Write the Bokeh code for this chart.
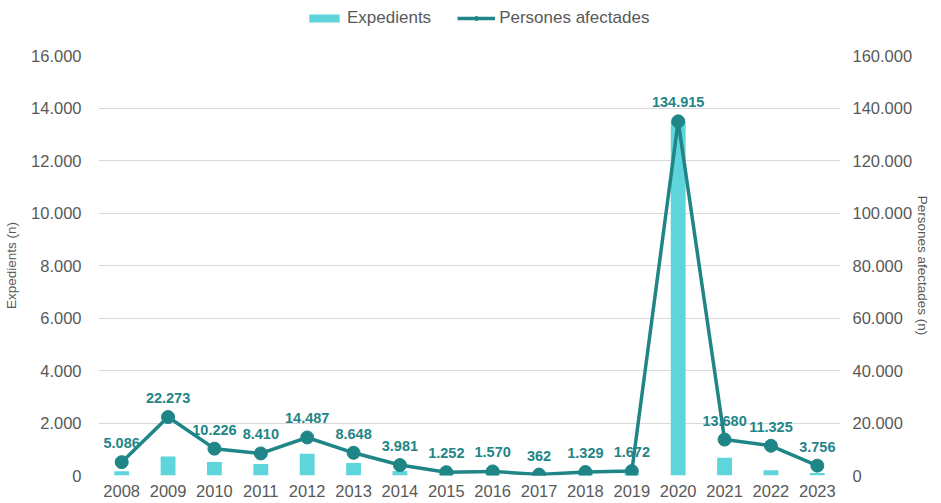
from bokeh.plotting import figure
from bokeh.layouts import column
from bokeh.models import (ColumnDataSource, Range1d, LinearAxis, FixedTicker, Legend,
                          LegendItem, LabelSet, FactorRange)
from bokeh.embed import file_html
from bokeh.resources import INLINE
from bokeh.core.properties import value

years = ["2008", "2009", "2010", "2011", "2012", "2013", "2014", "2015",
         "2016", "2017", "2018", "2019", "2020", "2021", "2022", "2023"]
expedients = [160, 720, 515, 440, 830, 475, 170, 60, 80, 20, 60, 70, 13500, 680, 200, 100]
persones = [5086, 22273, 10226, 8410, 14487, 8648, 3981, 1252, 1570, 362, 1329, 1672,
            134915, 13680, 11325, 3756]

left_ticks = [0, 2000, 4000, 6000, 8000, 10000, 12000, 14000, 16000]
right_ticks = [0, 20000, 40000, 60000, 80000, 100000, 120000, 140000, 160000]


def fmt(v):
    return f"{v:,}".replace(",", ".")


src = ColumnDataSource(dict(
    year=years, exp=expedients, per=persones,
    lab=[fmt(v) for v in persones],
))

FONT = "Liberation Sans"
GREY = "#595959"
BAR = "#5DD5DA"
LINE = "#1F8587"
W = 933
LEG_H = 30
H = 474
TOP, BOTTOM = 25, 29
LB, RB = 98, 90

# ---------- legend strip ----------
lg = figure(width=W, height=LEG_H, x_range=Range1d(0, 1), y_range=Range1d(0, 1),
            x_axis_type=None, y_axis_type=None, output_backend="svg",
            toolbar_location=None, min_border_left=LB, min_border_right=RB,
            min_border_top=0, min_border_bottom=0)
lg.outline_line_color = None
lg_vb = lg.vbar(x=[-100], bottom=[-100], top=[-99], width=0.3, color=BAR, line_color=None)
lg_ln = lg.line(x=[-100, -99], y=[-100, -100], line_color=LINE, line_width=3.5)
lg_sc = lg.scatter(x=[-100], y=[-100], size=12, fill_color=LINE, line_color=LINE)
legend = Legend(items=[LegendItem(label="Expedients", renderers=[lg_vb]),
                       LegendItem(label="Persones afectades", renderers=[lg_ln, lg_sc])],
                orientation="horizontal", location=(207, 2),
                label_text_font=FONT, label_text_font_size="17px",
                label_text_color=GREY, border_line_color=None,
                background_fill_alpha=0, glyph_width=38, glyph_height=10,
                spacing=26, label_standoff=4, padding=2, margin=0)
lg.add_layout(legend)

# ---------- main chart ----------
p = figure(x_range=FactorRange(*years), y_range=Range1d(0, 16000),
           width=W, height=H, output_backend="svg", toolbar_location=None,
           min_border_left=LB, min_border_right=RB, min_border_top=TOP,
           min_border_bottom=BOTTOM)
p.outline_line_color = None
p.extra_y_ranges = {"right": Range1d(0, 160000)}

p.vbar(x="year", top="exp", width=0.32, source=src, color=BAR, line_color=None)
p.line(x="year", y="per", source=src, y_range_name="right", line_color=LINE,
       line_width=3.5)
p.scatter(x="year", y="per", source=src, y_range_name="right", size=13,
          fill_color=LINE, line_color=LINE)

labels = LabelSet(x="year", y="per", text="lab", source=src, y_range_name="right",
                  y_offset=14, text_align="center", text_baseline="bottom",
                  text_font=value(FONT), text_font_style="bold", text_font_size="14.5px",
                  text_color=LINE)
p.add_layout(labels)


def style_axis(ax, label_standoff, axis_label_standoff):
    ax.axis_line_color = None
    ax.major_tick_line_color = None
    ax.minor_tick_line_color = None
    ax.major_tick_out = 0
    ax.major_tick_in = 0
    ax.minor_tick_out = 0
    ax.minor_tick_in = 0
    ax.major_label_text_font = FONT
    ax.major_label_text_font_size = "16.5px"
    ax.major_label_text_color = GREY
    ax.axis_label_text_font = FONT
    ax.axis_label_text_font_size = "13.5px"
    ax.axis_label_text_font_style = "normal"
    ax.axis_label_text_color = GREY
    ax.axis_label_standoff = axis_label_standoff
    ax.major_label_standoff = label_standoff


# left axis
p.yaxis.ticker = FixedTicker(ticks=left_ticks)
p.yaxis.major_label_overrides = {t: fmt(t) for t in left_ticks}
p.yaxis.axis_label = "Expedients (n)"
for ax in p.yaxis:
    style_axis(ax, 17, 9)

# right axis
ra = LinearAxis(y_range_name="right", ticker=FixedTicker(ticks=right_ticks),
                axis_label="Persones afectades (n)")
ra.major_label_overrides = {t: fmt(t) for t in right_ticks}
style_axis(ra, 12, 0)
p.add_layout(ra, "right")

# x axis
for ax in p.xaxis:
    style_axis(ax, 9, 0)

p.xgrid.grid_line_color = None
p.ygrid.grid_line_color = "#D9D9D9"
p.ygrid.grid_line_width = 1

layout = column(lg, p, spacing=0)
open("out.html", "w").write(file_html(layout, INLINE))
